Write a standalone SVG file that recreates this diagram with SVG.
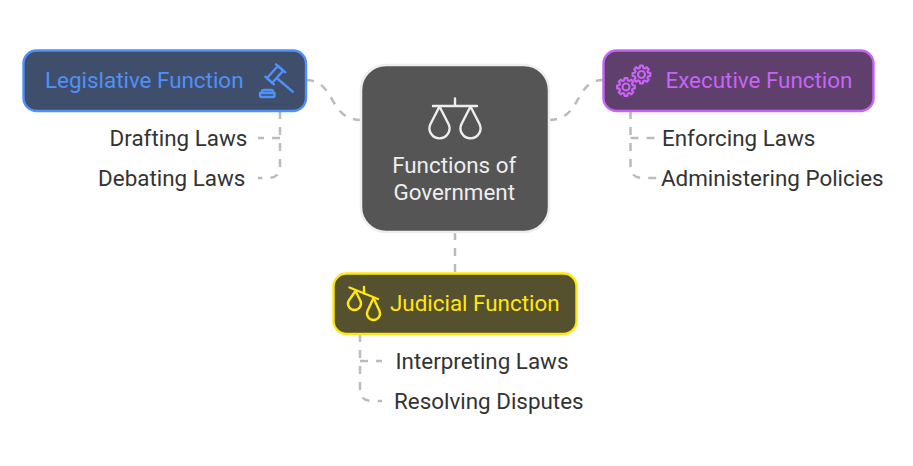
<svg xmlns="http://www.w3.org/2000/svg" width="913" height="466" viewBox="0 0 913 466">
<style>
text{font-family:Roboto,"Liberation Sans",sans-serif;font-size:22.4px}
.sub{fill:#333}
.con{fill:none;stroke:#bbb;stroke-width:2.500;stroke-dasharray:8 8}
.ic{fill:none;stroke-width:2.400;stroke-linejoin:round;stroke-linecap:round}
</style>
<defs>
<path id="gear" d="M6.54-1.87 8.89-1.41 8.89 1.41 6.54 1.87 5.95 3.3 7.28 5.29 5.29 7.28 3.3 5.95 1.87 6.54 1.41 8.89-1.41 8.89-1.87 6.54-3.3 5.95-5.29 7.28-7.28 5.29-5.95 3.3-6.54 1.87-8.89 1.41-8.89-1.41-6.54-1.87-5.95-3.3-7.28-5.29-5.29-7.28-3.3-5.95-1.87-6.54-1.41-8.89 1.41-8.89 1.87-6.54 3.3-5.95 5.29-7.28 7.28-5.29 5.95-3.3Z"/>
</defs>
<g id="connectors">
<path class="con" d="M306 80C336 80 328 120 361 120"/>
<path class="con" d="M549 120C582 120 574 80 603 80"/>
<path class="con" d="M455 232V273"/>
<path class="con" d="M280 111V166Q280 178 268 178H258"/>
<path class="con" d="M280 138H258"/>
<path class="con" d="M630.500 111V166Q630.500 178 643 178H662"/>
<path class="con" d="M630.500 138H662"/>
<path class="con" d="M360 334V389Q360 401 372 401H382"/>
<path class="con" d="M360 361H382"/>
</g>
<g id="center">
<rect x="361" y="65" width="188" height="167" rx="25" fill="#555" stroke="#eee" stroke-width="2.500"/>
<g class="ic" stroke="#eee">
<path d="M455 98.500V106M433 106H477"/>
<path d="M439.500 106.500 430.500 124A10 10 0 1 0 448.500 124Z"/>
<path d="M470.500 106.500 461.500 124A10 10 0 1 0 479.500 124Z"/>
</g>
<text x="454.200" y="172.500" text-anchor="middle" fill="#eee">Functions of</text>
<text x="454.200" y="199.500" text-anchor="middle" fill="#eee">Government</text>
</g>
<g id="legislative">
<rect x="23.500" y="50.500" width="282.500" height="60.500" rx="13" fill="#3f4f6b" stroke="#5090f8" stroke-width="2.400"/>
<text x="45" y="88" fill="#5090f8">Legislative Function</text>
<g class="ic" stroke="#5090f8">
<path d="M283.300 70.600 277.900 66 266.900 78.200 272.300 82.800Z"/>
<path d="M276 64.300 285.300 72.300M265.300 76.700 274 84.300"/>
<path d="M277.800 79 292.700 91.700"/>
<path d="M262 93V91.500Q262 90 264 90H271Q273 90 273 91.500V93M260 93H274.500V95.500Q274.500 97 273 97H261.500Q260 97 260 95.500Z"/>
</g>
</g>
<g id="drafting"><text class="sub" x="247.300" y="145.500" text-anchor="end">Drafting Laws</text></g>
<g id="debating"><text class="sub" x="245.300" y="185.500" text-anchor="end">Debating Laws</text></g>
<g id="executive">
<rect x="603.500" y="50.500" width="270" height="60.500" rx="13" fill="#5f3f6b" stroke="#c665f5" stroke-width="2.400"/>
<g fill="none" stroke="#c665f5" stroke-width="2.200" stroke-linejoin="round">
<use href="#gear" x="641.500" y="74.500"/>
<circle cx="641.500" cy="74.500" r="3.500"/>
<use href="#gear" x="626" y="87"/>
<circle cx="626" cy="87" r="3.500"/>
</g>
<text x="665.500" y="88" fill="#c665f5">Executive Function</text>
</g>
<g id="enforcing"><text class="sub" x="662" y="145.500">Enforcing Laws</text></g>
<g id="administering"><text class="sub" x="661" y="185.500">Administering Policies</text></g>
<g id="judicial">
<rect x="333.500" y="273.500" width="243" height="60.500" rx="13" fill="#55502e" stroke="#ffe713" stroke-width="2.400"/>
<g class="ic" stroke="#ffe713">
<path d="M349.500 287.500 378 299M364 287V293.500"/>
<path d="M355.500 291 348.500 301A6.500 6.500 0 1 0 360.500 301Z"/>
<path d="M373.500 298 367.500 311A6.500 6.500 0 1 0 379.500 311Z"/>
</g>
<text x="390" y="311" fill="#ffe713">Judicial Function</text>
</g>
<g id="interpreting"><text class="sub" x="395.500" y="368.500">Interpreting Laws</text></g>
<g id="resolving"><text class="sub" x="394" y="408.500">Resolving Disputes</text></g>
</svg>
